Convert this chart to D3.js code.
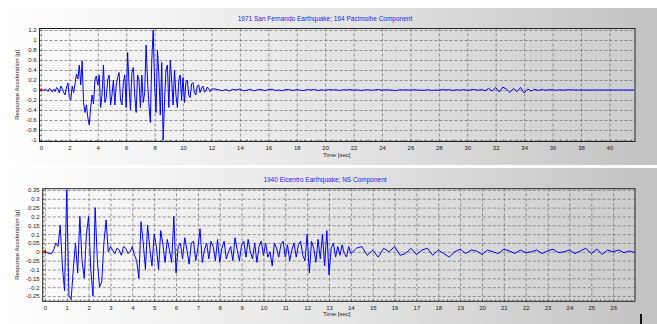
<!DOCTYPE html>
<html>
<head>
<meta charset="utf-8">
<script src="https://cdn.jsdelivr.net/npm/d3@7"></script>
<style>
  body { margin: 0; background: #fff; }
  svg { display: block; font-family: "Liberation Sans", Arial, sans-serif; }
</style>
</head>
<body>
<svg id="chart" width="657" height="324"></svg>
<script>
// 1971 San Fernando, 164 Pacoima component: strong part sampled every 0.1 s (0..12 s)
const pacoimaDt = 0.1;
const pacoimaStrong = [
  0, 0.01, -0.02, 0.02, 0.0, -0.03, 0.03, 0.01, -0.04, 0.02,
  -0.03, 0.05, 0.02, -0.06, 0.08, 0.03, -0.05, -0.1, 0.06, 0.14,
  -0.15, -0.2, 0.08, -0.05, 0.12, 0.32, 0.22, 0.5, 0.1, 0.58,
  -0.25, -0.45, -0.3, -0.55, -0.7, -0.35, -0.1, -0.28, 0.2, 0.28,
  0.1, 0.3, -0.35, -0.1, 0.5, -0.25, -0.15, 0.2, 0.3, -0.3,
  -0.1, 0.2, -0.3, 0.1, 0.25, 0.35, -0.2, -0.3, 0.15, 0.3,
  -0.35, 0.75, 0.1, -0.4, 0.35, 0.45, -0.1, -0.45, 0.3, 0.2,
  -0.35, 0.3, -0.25, -0.05, 0.9, 0.2, -0.3, -0.65, 0.6, 1.2,
  0.1, -0.45, 0.8, 0.3, -0.5, 0.55, -1.0, -0.2, 0.4, 0.5,
  -0.35, 0.6, 0.2, -0.3, 0.4, -0.1, -0.35, 0.2, 0.3, -0.2,
  0.25, -0.25, 0.15, 0.2, -0.1, -0.15, 0.12, 0.15, -0.05, -0.1,
  0.08, 0.1, -0.05, 0.04, 0.08, -0.04, -0.02, 0.06, 0.03, -0.03,
  0.02
];
// coda, sampled every 0.25 s from 12.25 s to 41.75 s
const pacoimaTailStart = 12.25;
const pacoimaTailDt = 0.25;
const pacoimaTail = [
  0.02, 0.005, -0.015, 0.01, -0.02, 0.015, 0.0, 0.02, -0.015, -0.005,
  0.015, -0.02, 0.005, 0.01, -0.015, 0.01, 0.015, -0.01, 0.0, -0.015,
  0.01, 0.005, -0.01, 0.01, -0.005, -0.01, 0.01, 0.0, 0.01, -0.01,
  0.005, -0.01, 0.01, 0.0, 0.005, -0.01, 0.005, 0.0, 0.01, -0.005,
  0.005, -0.01, 0.0, 0.005, -0.005, 0.0, 0.01, -0.005, 0.005, 0.0,
  -0.005, -0.01, 0.005, 0.0, 0.005, -0.005, 0.005, 0.0, -0.005, -0.005,
  0.005, -0.01, 0.0, -0.005, 0.01, 0.0, 0.005, -0.01, 0.005, -0.005,
  0.01, -0.01, 0.005, 0.01, -0.005, 0.01, -0.015, 0.03, -0.02, 0.05,
  -0.04, 0.06, 0.02, -0.05, 0.03, -0.03, 0.05, -0.06, 0.02, -0.02,
  0.015, -0.01, 0.01, -0.005, 0.005, 0.005, -0.005, 0.005, -0.005, 0.005,
  0.005, 0, 0, 0, 0, 0, 0, 0, 0, 0,
  0, 0, 0, 0, 0, 0, 0, 0, 0
];

// 1940 El Centro, NS component: 0..14 s every 0.1 s
const elcentroDt = 0.1;
const elcentroStrong = [
  0, -0.005, -0.01, -0.01, 0.01, 0.05, 0.03, 0.15, -0.08, -0.22,
  0.35, -0.25, -0.27, -0.1, 0.05, -0.12, 0.2, -0.05, -0.15, 0.1,
  0.2, -0.1, -0.25, 0.25, -0.05, -0.2, -0.17, 0.05, 0.18, 0.0,
  0.03, 0.01, -0.01, 0.02, 0.01, -0.02, 0.03, 0.02, -0.01, 0.0,
  0.03, -0.02, -0.05, -0.15, 0.17, 0.05, -0.1, 0.15, 0.02, -0.08,
  0.1, 0.03, -0.1, 0.12, 0.04, -0.06, 0.07, 0.01, -0.06, 0.2,
  -0.12, 0.03, 0.05, -0.04, 0.08, 0.01, -0.07, 0.05, 0.06, -0.05,
  0.02, 0.13, -0.06, 0.01, 0.05, -0.04, 0.06, 0.03, -0.05, 0.07,
  -0.06, 0.02, 0.06, -0.04, 0.0, 0.03, -0.05, 0.08, 0.01, -0.05,
  0.04, 0.06, -0.03, 0.07, 0.0, -0.04, 0.05, -0.06, 0.03, 0.06,
  -0.02, 0.05, -0.03, 0.0, -0.08, 0.05, 0.02, -0.03, 0.04, 0.06,
  -0.03, 0.04, -0.05, 0.01, 0.05, -0.03, 0.04, 0.06, -0.02, -0.05,
  0.1, -0.12, 0.06, 0.02, -0.06, 0.07, -0.04, 0.1, -0.08, 0.12,
  -0.13, 0.02, 0.05, -0.03, 0.03, -0.02, 0.04, -0.01, -0.03, 0.03,
  -0.01
];
// 14.25..27 s every 0.25 s
const elcentroTailStart = 14.25;
const elcentroTailDt = 0.25;
const elcentroTail = [
  0.02, 0.03, -0.02, 0.01, -0.03, 0.02, 0.0, 0.03,
  -0.02, -0.01, 0.02, -0.015, 0.01, 0.02, -0.02, 0.01,
  -0.01, -0.03, 0.0, 0.015, -0.01, 0.01, 0.005, -0.015,
  0.01, 0.0, -0.01, 0.015, 0.005, -0.01, 0.01, -0.005,
  0.0, 0.01, -0.01, 0.005, 0.015, -0.005, 0.0, 0.01,
  -0.01, 0.005, 0.02, -0.01, 0.015, -0.015, 0.01, 0.0,
  0.01, -0.005, 0.005, -0.005
];

const topYTicks = [1.2, 1, 0.8, 0.6, 0.4, 0.2, 0, -0.2, -0.4, -0.6, -0.8, -1];
const topXTicks = d3.range(0, 41, 2);
const botYTicks = [0.35, 0.3, 0.25, 0.2, 0.15, 0.1, 0.05, 0, -0.05, -0.1, -0.15, -0.2, -0.25];
const botXTicks = d3.range(0, 27, 1);

function toPoints(strong, dt, tail, tailStart, tailDt) {
  const pts = strong.map((v, i) => [i * dt, v]);
  tail.forEach((v, i) => pts.push([tailStart + i * tailDt, v]));
  return pts;
}

const svg = d3.select("#chart");
const defs = svg.append("defs");

const pg = defs.append("linearGradient").attr("id", "panelGrad");
pg.append("stop").attr("offset", "0").attr("stop-color", "#ffffff");
pg.append("stop").attr("offset", "0.5").attr("stop-color", "#e6e6e6");
pg.append("stop").attr("offset", "1").attr("stop-color", "#c2c2c2");

const ag = defs.append("linearGradient").attr("id", "plotGrad");
ag.append("stop").attr("offset", "0").attr("stop-color", "#fbfbfb");
ag.append("stop").attr("offset", "1").attr("stop-color", "#cdcdcd");

function drawChart(cfg) {
  const g = svg.append("g");

  g.append("rect")
    .attr("x", 0).attr("y", cfg.panelTop)
    .attr("width", 657).attr("height", cfg.panelH)
    .attr("fill", "url(#panelGrad)");

  const x = d3.scaleLinear().domain(cfg.xDomain).range([cfg.left, cfg.right]);
  const y = d3.scaleLinear().domain(cfg.yDomain).range([cfg.bottom, cfg.top]);
  const w = cfg.right - cfg.left, h = cfg.bottom - cfg.top;

  g.append("rect")
    .attr("x", cfg.left).attr("y", cfg.top)
    .attr("width", w).attr("height", h)
    .attr("fill", "url(#plotGrad)");

  // grid
  const gx = g.append("g")
    .attr("transform", "translate(0," + cfg.bottom + ")")
    .call(d3.axisBottom(x).tickValues(cfg.xTicks).tickSize(-h).tickFormat(""));
  const gy = g.append("g")
    .attr("transform", "translate(" + cfg.left + ",0)")
    .call(d3.axisLeft(y).tickValues(cfg.yTicks).tickSize(-w).tickFormat(""));
  [gx, gy].forEach(a => {
    a.select(".domain").remove();
    a.selectAll("line").attr("stroke", "#7a7a7a").attr("stroke-width", 0.8)
      .attr("stroke-dasharray", "3,2");
  });

  // minor ticks on the bottom and left edges
  const mx = g.append("g")
    .attr("transform", "translate(0," + cfg.bottom + ")")
    .call(d3.axisBottom(x).tickValues(cfg.xMinor).tickSize(-2).tickFormat(""));
  mx.select(".domain").remove();
  mx.selectAll("line").attr("stroke", "#555").attr("stroke-width", 0.7);
  const my = g.append("g")
    .attr("transform", "translate(" + cfg.left + ",0)")
    .call(d3.axisLeft(y).tickValues(cfg.yMinor).tickSize(-2).tickFormat(""));
  my.select(".domain").remove();
  my.selectAll("line").attr("stroke", "#555").attr("stroke-width", 0.7);

  // tick labels
  const lx = g.append("g")
    .attr("transform", "translate(0," + cfg.bottom + ")")
    .call(d3.axisBottom(x).tickValues(cfg.xTicks).tickSize(0).tickPadding(4)
      .tickFormat(d => String(d)));
  const ly = g.append("g")
    .attr("transform", "translate(" + cfg.left + ",0)")
    .call(d3.axisLeft(y).tickValues(cfg.yTicks).tickSize(0).tickPadding(3)
      .tickFormat(d => String(+d.toFixed(2))));
  [lx, ly].forEach(a => {
    a.select(".domain").remove();
    a.selectAll("text").attr("font-size", 6).attr("fill", "#222")
      .attr("font-family", "Liberation Sans, Arial, sans-serif");
  });

  // signal
  const clipId = "clip" + cfg.id;
  defs.append("clipPath").attr("id", clipId).append("rect")
    .attr("x", cfg.left).attr("y", cfg.top).attr("width", w).attr("height", h);

  const line = d3.line().x(d => x(d[0])).y(d => y(d[1]));
  g.append("path")
    .datum(cfg.points)
    .attr("clip-path", "url(#" + clipId + ")")
    .attr("fill", "none")
    .attr("stroke", "#0000ff")
    .attr("stroke-width", 1)
    .attr("stroke-linejoin", "round")
    .attr("d", line);

  g.append("circle")
    .attr("cx", x(0)).attr("cy", y(0)).attr("r", 1.6).attr("fill", "#cc0000");

  // border
  g.append("rect")
    .attr("x", cfg.left).attr("y", cfg.top)
    .attr("width", w).attr("height", h)
    .attr("fill", "none").attr("stroke", "#222").attr("stroke-width", 1);

  g.append("text")
    .attr("x", 325).attr("y", cfg.titleY)
    .attr("text-anchor", "middle")
    .attr("font-size", 6.5).attr("fill", "#1a1aee")
    .text(cfg.title);

  g.append("text")
    .attr("x", 323).attr("y", cfg.bottom + 15)
    .attr("font-size", 6).attr("fill", "#222")
    .text("Time [sec]");

  g.append("text")
    .attr("transform", "translate(19," + ((cfg.top + cfg.bottom) / 2) + ") rotate(-90)")
    .attr("text-anchor", "middle")
    .attr("font-size", 6).attr("fill", "#222")
    .text("Response Acceleration [g]");
}

drawChart({
  id: 1,
  panelTop: 8, panelH: 157,
  left: 39.5, right: 635, top: 28.5, bottom: 141.5,
  xDomain: [-0.1, 41.8], yDomain: [-1.03, 1.23],
  xTicks: topXTicks, yTicks: topYTicks,
  xMinor: d3.range(0, 41.8, 0.5), yMinor: d3.range(-1, 1.25, 0.1),
  title: "1971 San Fernando  Earthquake; 164 Pacimoihe Component",
  titleY: 21,
  points: toPoints(pacoimaStrong, pacoimaDt, pacoimaTail, pacoimaTailStart, pacoimaTailDt)
});

drawChart({
  id: 2,
  panelTop: 168, panelH: 156,
  left: 42.7, right: 635, top: 188.7, bottom: 301.3,
  xDomain: [-0.1, 27], yDomain: [-0.28, 0.357],
  xTicks: botXTicks, yTicks: botYTicks,
  xMinor: d3.range(0, 27, 0.2), yMinor: d3.range(-0.275, 0.36, 0.025),
  title: "1940 Elcentro  Earthquake; NS Component",
  titleY: 182,
  points: toPoints(elcentroStrong, elcentroDt, elcentroTail, elcentroTailStart, elcentroTailDt)
});

// small dark marker at the lower right edge of the capture
svg.append("rect").attr("x", 640).attr("y", 314).attr("width", 2).attr("height", 10).attr("fill", "#111");
</script>
</body>
</html>
